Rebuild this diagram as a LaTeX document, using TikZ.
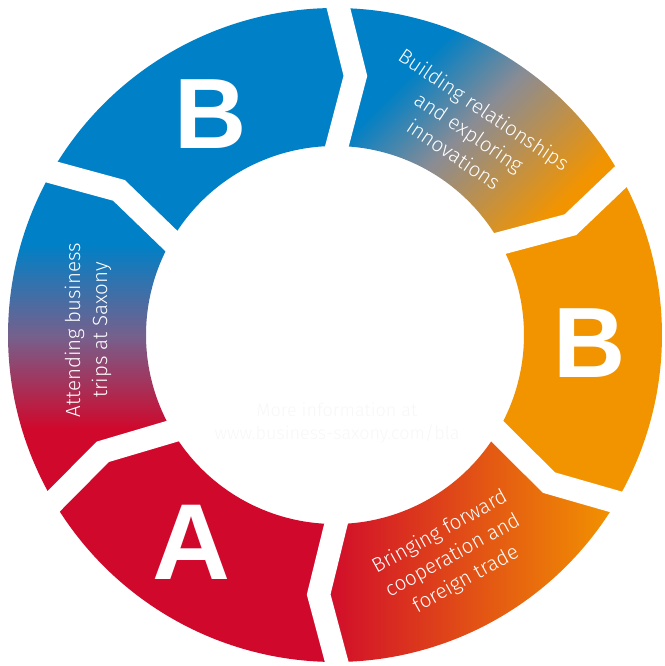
\documentclass[tikz,border=0pt]{standalone}
\usepackage{fontspec}
\IfFontExistsTF{Fira Sans Light}{\setmainfont{Fira Sans Light}}{\setmainfont{Open Sans}}
\newfontfamily\letterfont{Liberation Sans}
\usetikzlibrary{calc}
\definecolor{sxblue}{RGB}{0,128,198}
\definecolor{sxorange}{RGB}{242,148,0}
\definecolor{sxred}{RGB}{208,8,44}
\definecolor{sxgray}{RGB}{138,140,148}
\definecolor{sxmauve}{RGB}{118,96,140}
\pgfdeclareverticalshading{attshade}{100bp}{color(0bp)=(sxred); color(36bp)=(sxred); color(50bp)=(sxmauve); color(64bp)=(sxblue); color(100bp)=(sxblue)}
\pgfdeclareverticalshading{bldshade}{100bp}{color(0bp)=(sxorange); color(27bp)=(sxorange); color(47bp)=(sxgray); color(60bp)=(sxblue); color(100bp)=(sxblue)}
\def\Ro{327}
\def\Ri{189}
\def\Rm{260}
\def\dl{3.9}
\newcommand\ringseg[3]{\path[#1] (#2:\Ro) arc[start angle=#2, end angle=#3, radius=\Ro] -- ({#3-\dl}:\Rm) -- (#3:\Ri) arc[start angle=#3, end angle=#2, radius=\Ri] -- ({#2-\dl}:\Rm) -- cycle;}
\newcommand\gapline[1]{\draw[gapstyle] ($({#1-\dl}:\Rm)!1.5!(#1:\Ro)$) -- ({#1-\dl}:\Rm) -- ($({#1-\dl}:\Rm)!1.5!(#1:\Ri)$);}
\begin{document}
\begin{tikzpicture}[x=1pt,y=1pt,
  gapstyle/.style={white, line width=23pt, line join=miter},
  bigletter/.style={text=white, font=\letterfont\bfseries\fontsize{100}{100}\selectfont, inner sep=0pt},
  lbl/.style={text=white, align=center, font=\fontsize{20.5}{27}\selectfont, inner sep=0pt},
  info/.style={text=black!3, align=center, font=\fontsize{18}{23}\selectfont, inner sep=0pt}]
\useasboundingbox (-335,-331) rectangle (329,335);
% segments (clockwise)
\ringseg{shade, shading=attshade}{210.6}{150.1}
\ringseg{fill=sxblue}{150.1}{89.4}
\begin{scope}
  \ringseg{clip}{89.4}{29}
  \begin{scope}[transform canvas={rotate around={45:(135,235)}}]
    \shade[shading=bldshade] (-115,85) rectangle (385,385);
  \end{scope}
\end{scope}
\ringseg{fill=sxorange}{29}{-30.7}
\ringseg{shade, left color=sxred, right color=sxorange}{-30.7}{-89.7}
\ringseg{fill=sxred}{-89.7}{-149.4}
% white gaps
\gapline{150.1}
\gapline{89.4}
\gapline{29}
\gapline{-30.7}
\gapline{-89.7}
\gapline{-149.4}
% letters
\node[bigletter] (btop) at (-124,221) {B};
\node[bigletter] (bright) at (255,-8) {B};
\node[bigletter, font=\letterfont\bfseries\fontsize{108}{108}\selectfont] (aleft) at (-144,-207) {A};
% labels
\node[lbl, rotate=-34] (build) at (134,203) {Building relationships\\and exploring\\innovations};
\node[lbl, rotate=90] (attend) at (-247,5) {Attending business\\trips at Saxony};
\node[lbl, rotate=29] (bring) at (118,-221) {Bringing forward\\cooperation and\\foreign trade};
% centre text
\node[info] (more) at (2,-88) {More information at\\www.business-saxony.com/bla};
\end{tikzpicture}
\end{document}
